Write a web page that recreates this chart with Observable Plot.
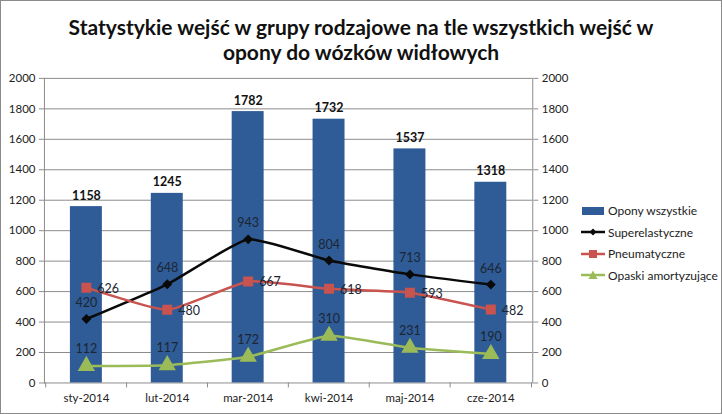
<!DOCTYPE html>
<html>
<head>
<meta charset="utf-8">
<script src="https://cdn.jsdelivr.net/npm/d3@7"></script>
<script src="https://cdn.jsdelivr.net/npm/@observablehq/plot@0.6"></script>
<style>
  html, body { margin: 0; padding: 0; background: #fff; }
  #wrap { position: relative; width: 720px; height: 412px; border: 1px solid #8a8a8a; background: #fff; overflow: hidden; }
  #title { position: absolute; left: 0; top: 13px; width: 720px; text-align: center; font-family: Lato, "Open Sans", sans-serif; font-weight: bold; font-size: 21px; line-height: 25px; color: #111; }
  #chart { position: absolute; left: -1px; top: -1px; }
  #legend { position: absolute; left: 580px; top: 199px; font-family: Lato, "Open Sans", sans-serif; font-size: 12px; color: #222; }
  .li { display: flex; align-items: center; height: 21.5px; }
  .li svg { margin-right: 3px; }
</style>
</head>
<body>
<div id="wrap">
  <div id="title">Statystykie wejść w grupy rodzajowe na tle wszystkich wejść w<br>opony do wózków widłowych</div>
  <div id="chart"></div>
  <div id="legend"></div>
</div>
<script>
const months = ["sty-2014", "lut-2014", "mar-2014", "kwi-2014", "maj-2014", "cze-2014"];
const totalAll = [1158, 1245, 1782, 1732, 1537, 1318];
const superelastic = [420, 648, 943, 804, 713, 646];
const pneumatic = [626, 480, 667, 618, 593, 482];
const bands = [112, 117, 172, 310, 231, 190];
const yTicks = [0, 200, 400, 600, 800, 1000, 1200, 1400, 1600, 1800, 2000];
const seriesNames = ["Opony  wszystkie", "Superelastyczne", "Pneumatyczne", "Opaski amortyzujące"];

const colBar = "#2F5B96", colBlack = "#0a0a0a", colRed = "#C8534F", colGreen = "#9BBB59";
const labelColor = "#1c2633";

const rows = months.map((m, i) => ({m, total: totalAll[i], sup: superelastic[i], pne: pneumatic[i], opa: bands[i]}));

const W = 722, H = 414, mL = 44, mR = 189, mT = 78, mB = 31;
const step = (W - mL - mR) / months.length;
const font = "Lato, 'Open Sans', sans-serif";
const fmt = d => String(d);
const curve = "cardinal", tension = 0.55;

const chart = Plot.plot({
  width: W, height: H,
  marginLeft: mL, marginRight: mR, marginTop: mT, marginBottom: mB,
  style: {fontFamily: font, fontSize: "11.5px", color: "#222", background: "transparent"},
  x: {domain: months, paddingInner: 0.6, paddingOuter: 0.3, label: null},
  y: {domain: [0, 2000], label: null},
  marks: [
    Plot.gridY(yTicks, {stroke: "#8c8c8c", strokeOpacity: 1}),
    Plot.frame({anchor: "left", stroke: "#8c8c8c"}),
    Plot.frame({anchor: "right", stroke: "#8c8c8c"}),
    Plot.axisY({ticks: yTicks, tickFormat: fmt, anchor: "left", tickSize: 5, tickPadding: 4, stroke: "#8c8c8c", fill: "#222", label: null}),
    Plot.axisY({ticks: yTicks, tickFormat: fmt, anchor: "right", tickSize: 5, tickPadding: 4, stroke: "#8c8c8c", fill: "#222", label: null}),
    Plot.axisX({anchor: "bottom", tickSize: 5, tickFormat: null, dx: -step / 2, stroke: "#8c8c8c"}),
    Plot.axisX(months.slice(-1), {anchor: "bottom", tickSize: 5, tickFormat: null, dx: step / 2, stroke: "#8c8c8c"}),
    Plot.axisX({anchor: "bottom", tickSize: 0, tickPadding: 11, fill: "#222", label: null}),
    Plot.barY(rows, {x: "m", y: "total", fill: colBar}),
    Plot.text(rows, {x: "m", y: "total", text: d => fmt(d.total), dy: -11, fontWeight: "bold", fontSize: 12.5, fill: "#111"}),
    Plot.line(rows, {x: "m", y: "sup", stroke: colBlack, strokeWidth: 2.5, curve, tension}),
    Plot.dot(rows, {x: "m", y: "sup", symbol: "diamond2", r: 3.5, fill: colBlack, stroke: colBlack}),
    Plot.line(rows, {x: "m", y: "pne", stroke: colRed, strokeWidth: 2.5, curve, tension}),
    Plot.dot(rows, {x: "m", y: "pne", symbol: "square", r: 4.8, fill: colRed, stroke: colRed}),
    Plot.line(rows, {x: "m", y: "opa", stroke: colGreen, strokeWidth: 2.5, curve, tension}),
    Plot.dot(rows, {x: "m", y: "opa", symbol: "triangle", r: 5.5, fill: colGreen, stroke: colGreen}),
    Plot.text(rows, {x: "m", y: "sup", text: d => fmt(d.sup), dy: -16, fontSize: 12.5, fill: labelColor}),
    Plot.text(rows, {x: "m", y: "pne", text: d => fmt(d.pne), dx: 11, dy: 1, textAnchor: "start", fontSize: 12.5, fill: labelColor}),
    Plot.text(rows, {x: "m", y: "opa", text: d => fmt(d.opa), dy: -17, fontSize: 12.5, fill: labelColor})
  ]
});
document.getElementById("chart").appendChild(chart);

// legend
const legend = document.getElementById("legend");
const swatches = [
  `<svg width="24" height="10"><rect x="1" y="1" width="22" height="8" fill="${colBar}"/></svg>`,
  `<svg width="24" height="10"><line x1="0" x2="24" y1="5" y2="5" stroke="${colBlack}" stroke-width="2.5"/><path d="M12,1.5L15.5,5L12,8.5L8.5,5Z" fill="${colBlack}"/></svg>`,
  `<svg width="24" height="10"><line x1="0" x2="24" y1="5" y2="5" stroke="${colRed}" stroke-width="2.5"/><rect x="8" y="1" width="8" height="8" fill="${colRed}"/></svg>`,
  `<svg width="24" height="10"><line x1="0" x2="24" y1="5" y2="5" stroke="${colGreen}" stroke-width="2.5"/><path d="M12,0.5L16.5,9L7.5,9Z" fill="${colGreen}"/></svg>`
];
seriesNames.forEach((name, i) => {
  const d = document.createElement("div");
  d.className = "li";
  d.innerHTML = swatches[i] + `<span>${name}</span>`;
  legend.appendChild(d);
});
</script>
</body>
</html>
